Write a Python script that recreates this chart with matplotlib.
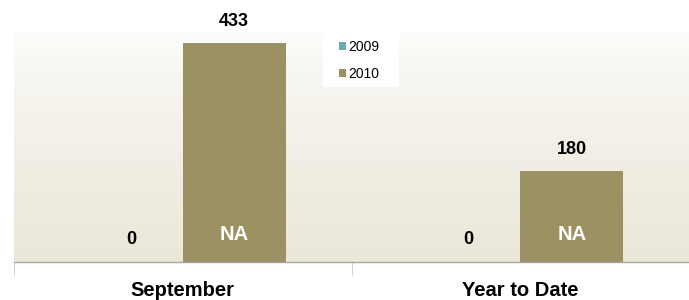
import numpy as np
import matplotlib.pyplot as plt
from matplotlib.patches import Rectangle

categories = ["September", "Year to Date"]
series = ["2009", "2010"]
values_2009 = [0, 0]
values_2010 = [433, 180]
inside_labels = ["NA", "NA"]
colors = {"2009": "#70A9B2", "2010": "#9C9162"}

plt.rcParams["font.family"] = ["Liberation Sans", "DejaVu Sans"]

fig = plt.figure(figsize=(6.89, 3.0), dpi=100)
ax = fig.add_axes([14 / 689, 38 / 300, 1 - 14 / 689, 232 / 300])

x = np.arange(len(categories))
w = 0.305
ymax = 433 * 232 / 219
upx = ymax / 232  # data units per pixel

# gradient background (white at top to beige at bottom)
grad = np.linspace(0, 1, 256).reshape(-1, 1)
top = np.array([1.0, 1.0, 1.0])
bot = np.array([235, 232, 218]) / 255
img = top + (bot - top) * grad[:, :, None] ** 0.6
ax.imshow(img, extent=[-0.5, 1.5, 0, ymax], aspect="auto", origin="upper", zorder=0)

ax.bar(x - w, values_2009, w, align="edge", color=colors["2009"], label="2009", zorder=2)
ax.bar(x, values_2010, w, align="edge", color=colors["2010"], label="2010", zorder=2)

for xi, v in zip(x, values_2009):
    ax.text(xi - w / 2, 22 * upx, str(v), ha="center", va="center", fontsize=13,
            fontweight="bold", zorder=3)
for xi, v, lab in zip(x, values_2010, inside_labels):
    ax.text(xi + w / 2, v + 21 * upx, str(v), ha="center", va="center", fontsize=13,
            fontweight="bold", clip_on=False, zorder=3)
    ax.text(xi + w / 2, 28 * upx, lab, ha="center", va="center", fontsize=14.5,
            fontweight="bold", color="white", zorder=3)

ax.set_xlim(-0.5, 1.5)
ax.set_ylim(0, ymax)
ax.set_yticks([])
for s in ["top", "right", "left"]:
    ax.spines[s].set_visible(False)
ax.spines["bottom"].set_color("#A6A6A6")
ax.spines["bottom"].set_linewidth(1.0)

ax.set_xticks(x)
ax.set_xticklabels(categories, fontsize=14.5, fontweight="bold")
ax.tick_params(axis="x", which="major", length=0, pad=13.5)
ax.set_xticks([-0.5, 0.5, 1.5], minor=True)
ax.tick_params(axis="x", which="minor", length=9, color="#C8C8C8")

# legend box
fig.patches.append(Rectangle((323 / 689, 1 - 87 / 300), 76 / 689, 57 / 300,
                             transform=fig.transFigure, facecolor="white",
                             edgecolor="none", zorder=5))
leg = fig.legend(loc="upper left", bbox_to_anchor=(339 / 689, 1 - 40 / 300), frameon=False,
                 fontsize=10, handlelength=0.5, handleheight=0.5, handletextpad=0.2,
                 labelspacing=0.9, borderpad=0, borderaxespad=0)
leg.set_zorder(6)

fig.savefig("out.png", dpi=100, facecolor="white")
